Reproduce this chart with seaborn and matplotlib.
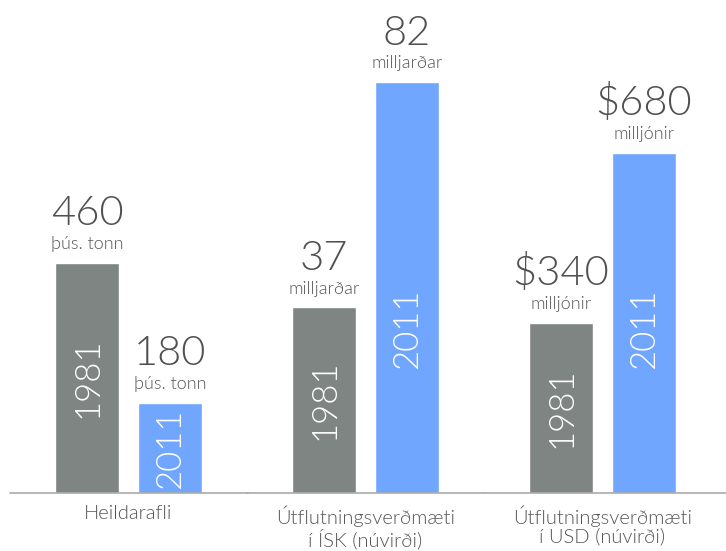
import matplotlib
matplotlib.use("Agg")
import matplotlib.pyplot as plt
import matplotlib.transforms as mtransforms
import seaborn as sns
import pandas as pd

# data
groups = ["Heildarafli",
          "Útflutningsverðmæti\ní ÍSK (núvirði)",
          "Útflutningsverðmæti\ní USD (núvirði)"]
years = ["1981", "2011"]
values = [[460, 180], [37, 82], [340, 680]]
value_labels = [["460", "180"], ["37", "82"], ["$340", "$680"]]
units = [["þús. tonn", "þús. tonn"], ["milljarðar", "milljarðar"], ["milljónir", "milljónir"]]
ymax = [985, 98.4, 985]

sns.set_style("white")
plt.rcParams["font.family"] = ["Lato", "DejaVu Sans"]

gray = "#7F8582"
blue = "#71A6FE"
txt = "#505050"

W, H = 726, 551
fig = plt.figure(figsize=(W / 100, H / 100), dpi=100)

base = 492.7           # baseline, px from top
edges = [10, 247.5, 484.5, 726]
step = 83              # px between bar centres

for i in range(3):
    L, R = edges[i], edges[i + 1]
    ax = fig.add_axes([L / W, (H - base) / H, (R - L) / W, base / H])
    df = pd.DataFrame({"year": years, "value": values[i]})
    sns.barplot(df, x="year", y="value", hue="year", palette=[gray, blue],
                width=64 / step, saturation=1, legend=False, ax=ax)
    c0 = 87 + 237 * i
    ax.set_xlim((L - c0) / step, (R - c0) / step)
    ax.set_ylim(0, ymax[i])
    ax.set_axis_off()
    ax.axhline(0, color="#aaaaaa", lw=1.2, clip_on=False)

    for j, v in enumerate(values[i]):
        ax.annotate(units[i][j], (j, v), xytext=(0, 10), textcoords="offset points",
                    ha="center", va="baseline", fontsize=13, color="#555555",
                    fontweight=300, annotation_clip=False)
        ax.annotate(value_labels[i][j], (j, v), xytext=(0, 27), textcoords="offset points",
                    ha="center", va="baseline", fontsize=30, color=txt,
                    fontweight=300, annotation_clip=False)
        ymid = min(v / 2, 0.335 * ymax[i])
        ax.text(j, ymid, years[j], rotation=90, ha="center", va="center",
                fontsize=25, color="white", fontweight=300)

    tr = mtransforms.blended_transform_factory(ax.transData, ax.transAxes)
    ax.text(0.5, -0.025, groups[i], transform=tr, ha="center", va="top",
            fontsize=14.5, color="#555555", fontweight=300, linespacing=1.1)

fig.savefig("out.png", dpi=100)
